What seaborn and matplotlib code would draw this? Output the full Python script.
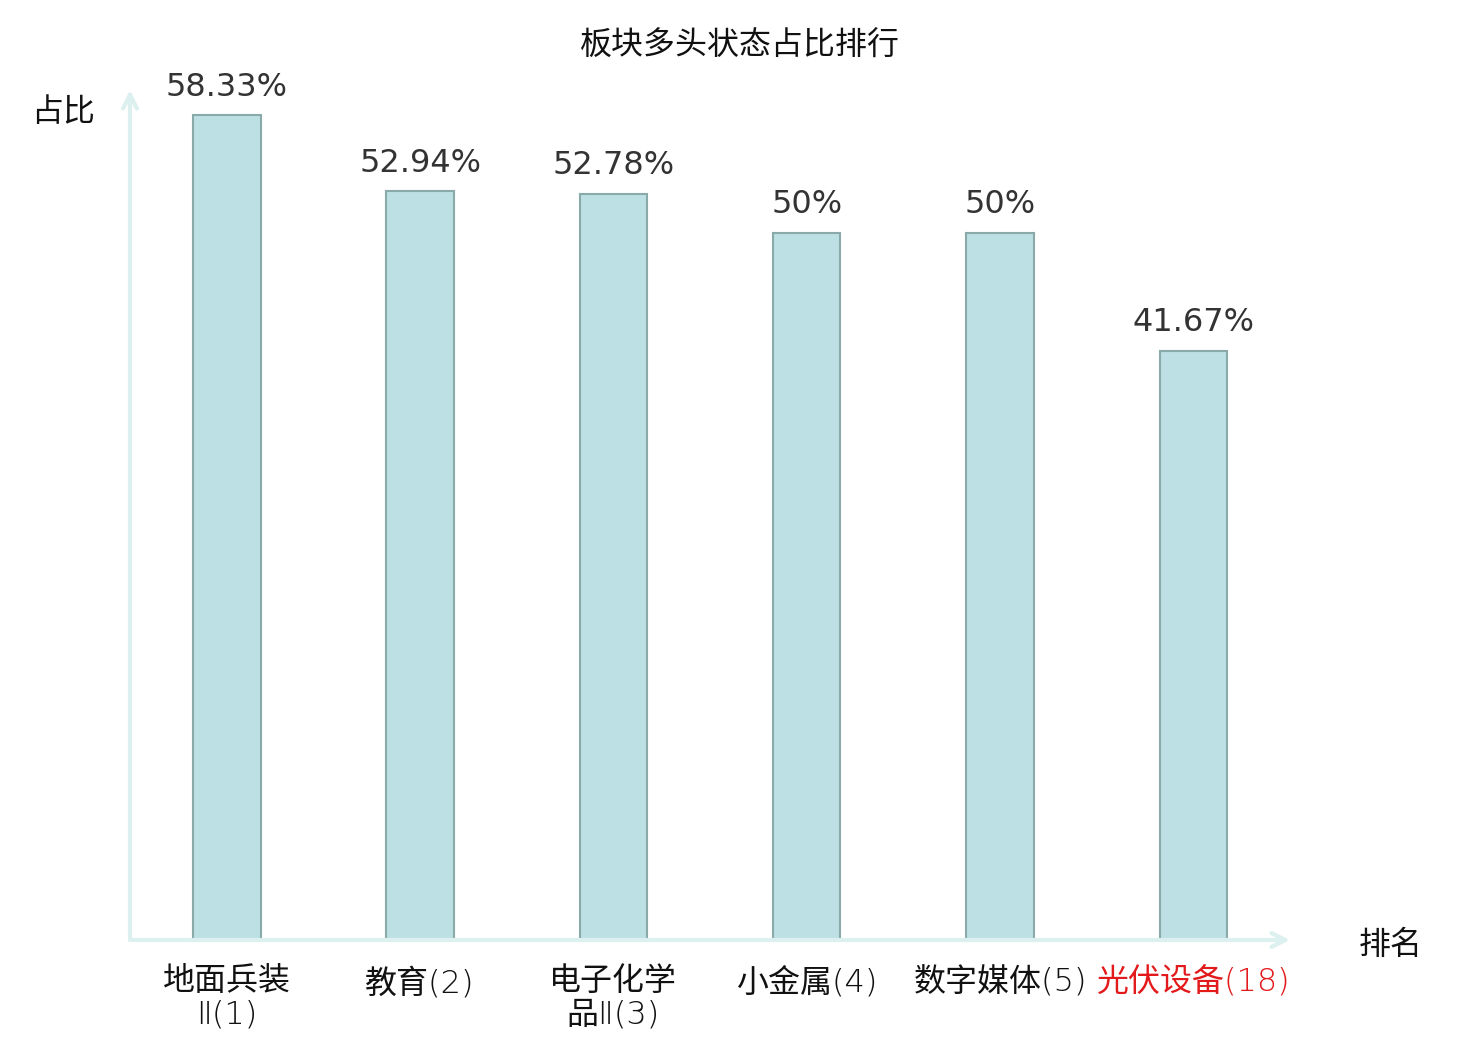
import numpy as np
import pandas as pd
import matplotlib.pyplot as plt
import seaborn as sns

sns.set_style("white")
plt.rcParams['font.family'] = ['Noto Sans CJK SC', 'DejaVu Sans']

# data
sectors = ['地面兵装\nⅡ(1)', '教育(2)', '电子化学\n品Ⅱ(3)', '小金属(4)', '数字媒体(5)', '光伏设备(18)']
ratios = [58.33, 52.94, 52.78, 50, 50, 41.67]
highlight = '光伏设备(18)'

df = pd.DataFrame({'sector': sectors, 'ratio': ratios})

fig = plt.figure(figsize=(14.8, 10.4), dpi=100)
ax = fig.add_axes([130 / 1480, 100 / 1040, 1160 / 1480, 850 / 1040])

sns.barplot(x='sector', y='ratio', data=df, ax=ax, color='#bce0e3',
            edgecolor='#8aa9a9', linewidth=1.5, width=0.35, saturation=1)

ax.set_xlim(-0.5, 5.5)
ax.set_ylim(0, 60.1)

# value labels on top of bars
ax.bar_label(ax.containers[0], labels=[f"{v:g}%" for v in ratios], padding=9,
             fontsize=23, color='#333333', family='DejaVu Sans')

# axes as arrows
for s in ax.spines.values():
    s.set_visible(False)
axis_col = '#dcf1ef'
ax.annotate('', xy=(1.0, 0), xytext=(0, 0), xycoords='axes fraction',
            arrowprops=dict(arrowstyle='->,head_length=1.0,head_width=0.5',
                            color=axis_col, lw=3, shrinkA=0, shrinkB=0),
            annotation_clip=False)
ax.annotate('', xy=(0, 1.0), xytext=(0, 0), xycoords='axes fraction',
            arrowprops=dict(arrowstyle='->,head_length=1.0,head_width=0.5',
                            color=axis_col, lw=3, shrinkA=0, shrinkB=0),
            annotation_clip=False)

ax.set_yticks([])
ax.tick_params(axis='x', length=0, pad=19, labelsize=23)
for lab in ax.get_xticklabels():
    lab.set_linespacing(1.12)
    lab.set_family(['DejaVu Sans', 'Noto Sans CJK SC'])
    lab.set_fontweight('light')
    lab.set_color('#e31a1c' if lab.get_text() == highlight else '#111111')

ax.set_xlabel('')
ax.set_ylabel('')
fig.text(63 / 1480, 1 - 112 / 1040, '占比', fontsize=23, ha='center', va='center', color='#111111')
fig.text(1391 / 1480, 1 - 945 / 1040, '排名', fontsize=23, ha='center', va='center', color='#111111')
fig.text(0.5, 1 - 46 / 1040, '板块多头状态占比排行', fontsize=23, ha='center', va='center', color='#111111')

fig.savefig('out.png', dpi=100)
